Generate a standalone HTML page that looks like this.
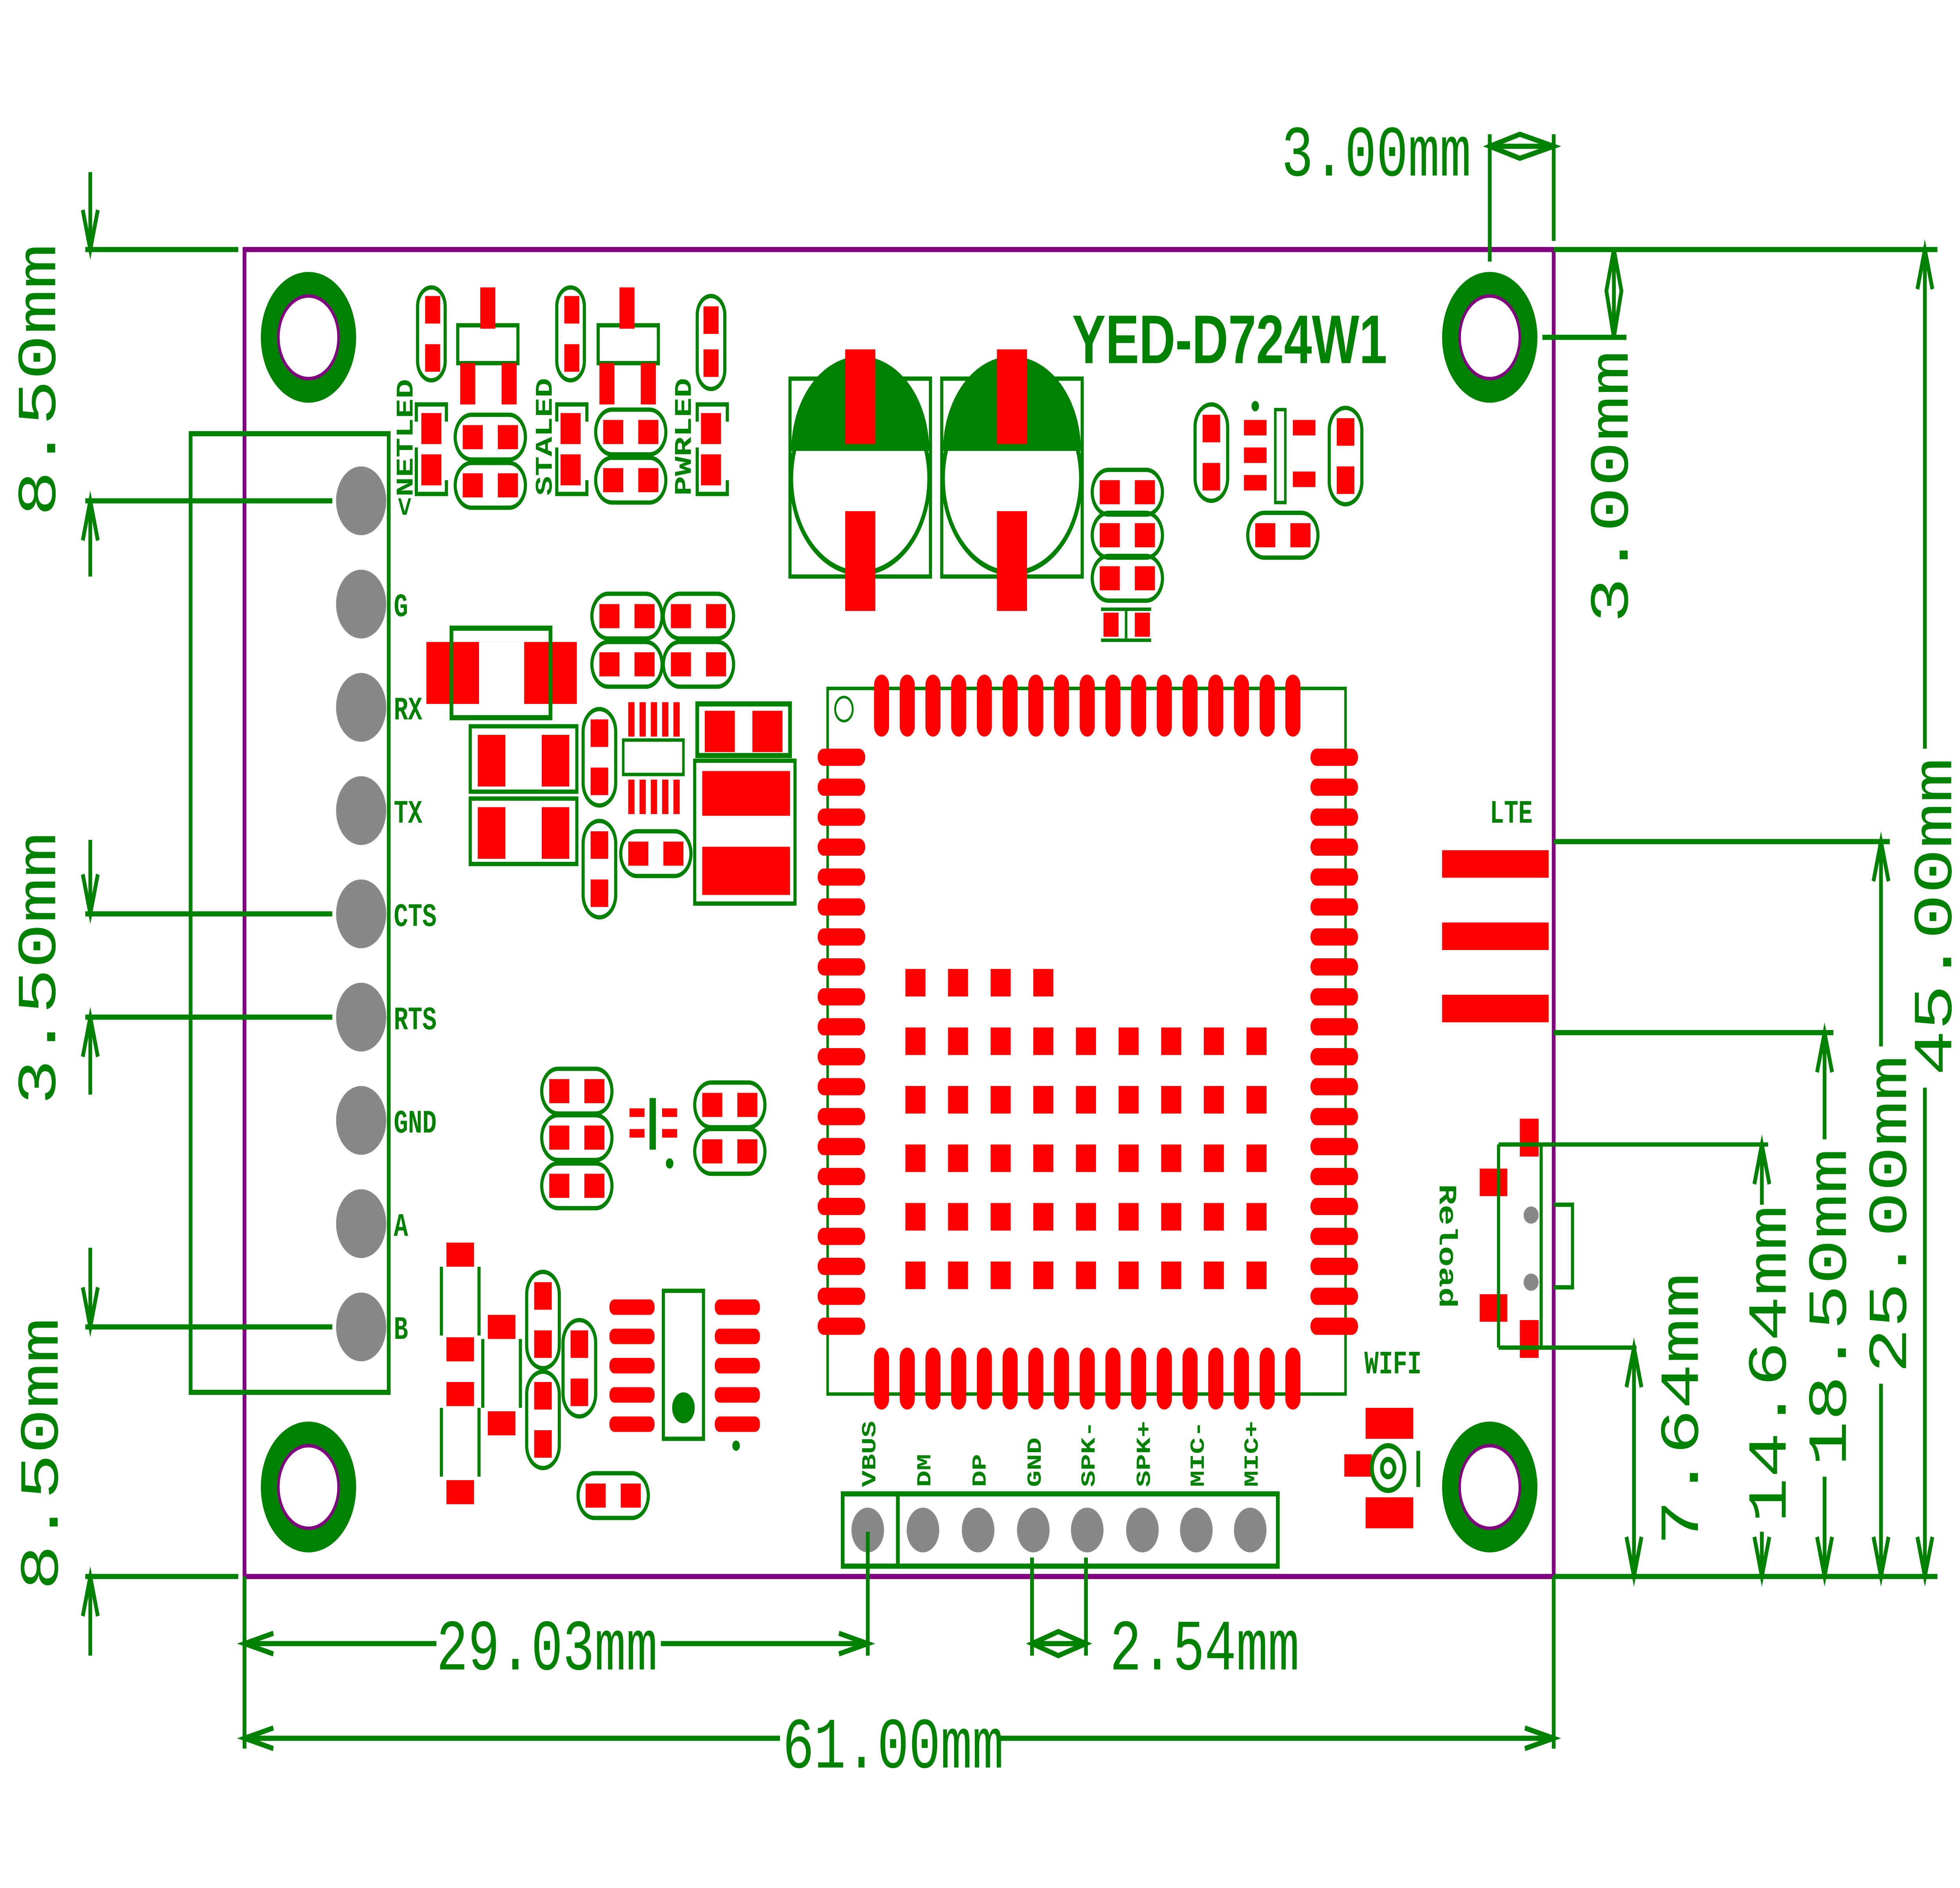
<!DOCTYPE html>
<html><head><meta charset="utf-8"><style>
html,body{margin:0;padding:0;background:#fff;overflow:hidden;width:100%;height:100%}
svg{display:block;position:absolute;left:0;top:0;width:100vw;height:100vh}
text{font-family:"Liberation Mono","DejaVu Sans Mono",monospace;fill:#008000}
</style></head><body>
<svg viewBox="0 0 1563 1097" preserveAspectRatio="none" xmlns="http://www.w3.org/2000/svg">
<defs>
<g id="pill"><rect x="-28" y="-13" width="56" height="26" rx="13" fill="none" stroke="#008000" stroke-width="2.5"/><rect x="-22" y="-7" width="16" height="14" fill="#f00"/><rect x="6" y="-7" width="16" height="14" fill="#f00"/></g>
<g id="hole"><circle r="38" fill="#008000"/><circle r="24" fill="#fff" stroke="#800080" stroke-width="2"/></g>
</defs>

<rect x="195" y="145" width="1044" height="771" fill="none" stroke="#800080" stroke-width="3"/>
<use href="#hole" x="246" y="196"/><use href="#hole" x="1188" y="196"/>
<use href="#hole" x="246" y="864"/><use href="#hole" x="1188" y="864"/>
<text x="855" y="211" font-weight="bold" font-size="40" style="font-family:'Liberation Sans',sans-serif">YED-D724W1</text>

<rect x="152" y="252" width="158" height="557" fill="none" stroke="#008000" stroke-width="3"/>
<g fill="#888">
<circle cx="288" cy="291" r="20"/><circle cx="288" cy="351" r="20"/><circle cx="288" cy="411" r="20"/><circle cx="288" cy="471" r="20"/><circle cx="288" cy="531" r="20"/><circle cx="288" cy="591" r="20"/><circle cx="288" cy="651" r="20"/><circle cx="288" cy="711" r="20"/><circle cx="288" cy="771" r="20"/>
</g>
<g font-size="19" font-weight="bold">
<text x="314" y="358">G</text><text x="314" y="418">RX</text><text x="314" y="478">TX</text><text x="314" y="538">CTS</text><text x="314" y="598">RTS</text><text x="314" y="658">GND</text><text x="314" y="718">A</text><text x="314" y="778">B</text>
<text transform="translate(329,300) rotate(-90)">&lt;NETLED</text>
<text transform="translate(440,288) rotate(-90)">STALED</text>
<text transform="translate(551,288) rotate(-90)">PWRLED</text>
</g>

<g stroke="#008000" stroke-width="2.5" fill="none">
<rect x="333" y="167" width="22" height="54" rx="11"/><rect x="444" y="167" width="22" height="54" rx="11"/><rect x="556" y="172" width="22" height="54" rx="11"/>
<rect x="365" y="189" width="48" height="22"/><rect x="477" y="189" width="48" height="22"/>
<path d="M332,245 v-10 h24 v10 M332,260 v27 h24 v-8 M444,245 v-10 h24 v10 M444,260 v27 h24 v-8 M556,245 v-10 h24 v10 M556,260 v27 h24 v-8"/>
</g>
<g fill="#f00">
<rect x="339" y="172" width="12" height="16"/><rect x="339" y="200" width="12" height="16"/>
<rect x="450" y="172" width="12" height="16"/><rect x="450" y="200" width="12" height="16"/>
<rect x="561" y="178" width="12" height="16"/><rect x="561" y="203" width="12" height="16"/>
<rect x="383" y="167" width="12" height="24"/><rect x="367" y="211" width="12" height="24"/><rect x="400" y="211" width="12" height="24"/>
<rect x="494" y="167" width="12" height="24"/><rect x="478" y="211" width="12" height="24"/><rect x="511" y="211" width="12" height="24"/>
<rect x="336" y="240" width="16" height="18"/><rect x="336" y="264" width="16" height="18"/>
<rect x="447" y="240" width="16" height="18"/><rect x="447" y="264" width="16" height="18"/>
<rect x="559" y="240" width="16" height="18"/><rect x="559" y="264" width="16" height="18"/>
</g>
<use href="#pill" x="391" y="254"/><use href="#pill" x="391" y="282"/><use href="#pill" x="503" y="251"/><use href="#pill" x="503" y="279"/>
<use href="#pill" x="500" y="358"/><use href="#pill" x="557" y="358"/><use href="#pill" x="500" y="386"/><use href="#pill" x="557" y="386"/>

<rect x="340" y="373" width="120" height="36" fill="#f00"/>
<rect x="382" y="373" width="36" height="36" fill="#fff"/>
<rect x="360" y="365" width="79" height="52" fill="none" stroke="#008000" stroke-width="3"/>
<g stroke="#008000" stroke-width="2.5" fill="none"><rect x="375" y="422" width="85" height="38"/><rect x="375" y="464" width="85" height="38"/></g>
<g fill="#f00"><rect x="381" y="427" width="22" height="30"/><rect x="432" y="427" width="22" height="30"/><rect x="381" y="469" width="22" height="30"/><rect x="432" y="469" width="22" height="30"/></g>
<g transform="translate(478,440) rotate(90)"><use href="#pill"/></g>
<g transform="translate(478,505) rotate(90)"><use href="#pill"/></g>
<use href="#pill" x="523" y="496"/>
<g fill="#f00"><rect x="501" y="408" width="5" height="20"/><rect x="510" y="408" width="5" height="20"/><rect x="519" y="408" width="5" height="20"/><rect x="528" y="408" width="5" height="20"/><rect x="537" y="408" width="5" height="20"/>
<rect x="501" y="453" width="5" height="20"/><rect x="510" y="453" width="5" height="20"/><rect x="519" y="453" width="5" height="20"/><rect x="528" y="453" width="5" height="20"/><rect x="537" y="453" width="5" height="20"/></g>
<rect x="497" y="430" width="48" height="20" fill="none" stroke="#008000" stroke-width="2"/>
<rect x="556" y="409" width="74" height="30" fill="none" stroke="#008000" stroke-width="3"/>
<g fill="#f00"><rect x="562" y="413" width="24" height="24"/><rect x="600" y="413" width="24" height="24"/><rect x="560" y="448" width="70" height="26"/><rect x="560" y="492" width="70" height="28"/></g>
<rect x="554" y="442" width="80" height="83" fill="none" stroke="#008000" stroke-width="2.5"/>

<g>
<rect x="630" y="220" width="112" height="115" fill="none" stroke="#008000" stroke-width="2.5"/>
<path d="M631,262 A55,55 0 0 1 741,262 Z" fill="#008000"/>
<circle cx="686" cy="278" r="55" fill="none" stroke="#008000" stroke-width="3"/>
<rect x="674" y="203" width="24" height="55" fill="#f00"/><rect x="674" y="297" width="24" height="58" fill="#f00"/>
<rect x="751" y="220" width="112" height="115" fill="none" stroke="#008000" stroke-width="2.5"/>
<path d="M752,262 A55,55 0 0 1 862,262 Z" fill="#008000"/>
<circle cx="807" cy="278" r="55" fill="none" stroke="#008000" stroke-width="3"/>
<rect x="795" y="203" width="24" height="55" fill="#f00"/><rect x="795" y="297" width="24" height="58" fill="#f00"/>
</g>
<use href="#pill" x="899" y="286"/><use href="#pill" x="899" y="311"/><use href="#pill" x="899" y="336"/>
<g fill="#f00"><rect x="880" y="356" width="12" height="14"/><rect x="905" y="356" width="12" height="14"/></g>
<path d="M878,354 h40 M878,372 h40 M898,354 v18" stroke="#008000" stroke-width="2"/>
<g transform="translate(966,263) rotate(90)"><use href="#pill"/></g>
<g transform="translate(1073,265) rotate(90)"><use href="#pill"/></g>
<use href="#pill" x="1023" y="311"/>
<g fill="#f00"><rect x="992" y="244" width="18" height="9"/><rect x="992" y="260" width="18" height="9"/><rect x="992" y="276" width="18" height="9"/><rect x="1031" y="244" width="18" height="9"/><rect x="1031" y="274" width="18" height="9"/></g>
<rect x="1017" y="238" width="8" height="54" fill="none" stroke="#008000" stroke-width="2"/><circle cx="1001" cy="236" r="3" fill="#008000"/>

<use href="#pill" x="460" y="634"/><use href="#pill" x="460" y="661"/><use href="#pill" x="460" y="689"/>
<use href="#pill" x="582" y="642"/><use href="#pill" x="582" y="669"/>
<g fill="#f00"><rect x="502" y="644" width="12" height="5"/><rect x="502" y="656" width="12" height="5"/><rect x="528" y="644" width="12" height="5"/><rect x="528" y="656" width="12" height="5"/></g>
<rect x="518" y="638" width="5" height="30" fill="#008000"/><circle cx="534" cy="676" r="3" fill="#008000"/>

<g fill="#f00"><rect x="356" y="722" width="22" height="14"/><rect x="356" y="777" width="22" height="14"/><rect x="356" y="803" width="22" height="14"/><rect x="356" y="860" width="22" height="14"/><rect x="389" y="764" width="22" height="14"/><rect x="389" y="820" width="22" height="14"/></g>
<path d="M352,736 v40 M382,736 v40 M352,818 v40 M382,818 v40 M385,778 v40 M415,778 v40" stroke="#008000" stroke-width="2.5"/>
<g transform="translate(433,767) rotate(90)"><use href="#pill"/></g>
<g transform="translate(433,825) rotate(90)"><use href="#pill"/></g>
<g transform="translate(462,795) rotate(90)"><use href="#pill"/></g>
<use href="#pill" x="489" y="869"/>
<g fill="#f00"><rect x="486" y="755" width="36" height="9" rx="4"/><rect x="486" y="772" width="36" height="9" rx="4"/><rect x="486" y="789" width="36" height="9" rx="4"/><rect x="486" y="806" width="36" height="9" rx="4"/><rect x="486" y="823" width="36" height="9" rx="4"/>
<rect x="570" y="755" width="36" height="9" rx="4"/><rect x="570" y="772" width="36" height="9" rx="4"/><rect x="570" y="789" width="36" height="9" rx="4"/><rect x="570" y="806" width="36" height="9" rx="4"/><rect x="570" y="823" width="36" height="9" rx="4"/></g>
<rect x="529" y="750" width="32" height="86" fill="none" stroke="#008000" stroke-width="2.5"/>
<circle cx="545" cy="818" r="9" fill="#008000"/><circle cx="587" cy="840" r="3" fill="#008000"/>

<rect x="660" y="400" width="413" height="410" fill="none" stroke="#008000" stroke-width="2"/>
<circle cx="673" cy="412" r="7" fill="none" stroke="#008000" stroke-width="1.5"/>
<g id="tr" fill="#f00">
<rect x="697" y="392" width="12" height="36" rx="6"/><rect x="717.5" y="392" width="12" height="36" rx="6"/><rect x="738" y="392" width="12" height="36" rx="6"/><rect x="758.5" y="392" width="12" height="36" rx="6"/><rect x="779" y="392" width="12" height="36" rx="6"/><rect x="799.5" y="392" width="12" height="36" rx="6"/><rect x="820" y="392" width="12" height="36" rx="6"/><rect x="840.5" y="392" width="12" height="36" rx="6"/><rect x="861" y="392" width="12" height="36" rx="6"/><rect x="881.5" y="392" width="12" height="36" rx="6"/><rect x="902" y="392" width="12" height="36" rx="6"/><rect x="922.5" y="392" width="12" height="36" rx="6"/><rect x="943" y="392" width="12" height="36" rx="6"/><rect x="963.5" y="392" width="12" height="36" rx="6"/><rect x="984" y="392" width="12" height="36" rx="6"/><rect x="1004.5" y="392" width="12" height="36" rx="6"/><rect x="1025" y="392" width="12" height="36" rx="6"/>
</g>
<use href="#tr" y="391"/>
<g id="lc" fill="#f00">
<rect x="652" y="435" width="38" height="10" rx="5"/><rect x="652" y="452.4" width="38" height="10" rx="5"/><rect x="652" y="469.8" width="38" height="10" rx="5"/><rect x="652" y="487.2" width="38" height="10" rx="5"/><rect x="652" y="504.6" width="38" height="10" rx="5"/><rect x="652" y="522" width="38" height="10" rx="5"/><rect x="652" y="539.4" width="38" height="10" rx="5"/><rect x="652" y="556.8" width="38" height="10" rx="5"/><rect x="652" y="574.2" width="38" height="10" rx="5"/><rect x="652" y="591.6" width="38" height="10" rx="5"/><rect x="652" y="609" width="38" height="10" rx="5"/><rect x="652" y="626.4" width="38" height="10" rx="5"/><rect x="652" y="643.8" width="38" height="10" rx="5"/><rect x="652" y="661.2" width="38" height="10" rx="5"/><rect x="652" y="678.6" width="38" height="10" rx="5"/><rect x="652" y="696" width="38" height="10" rx="5"/><rect x="652" y="713.4" width="38" height="10" rx="5"/><rect x="652" y="730.8" width="38" height="10" rx="5"/><rect x="652" y="748.2" width="38" height="10" rx="5"/><rect x="652" y="765.6" width="38" height="10" rx="5"/>
</g>
<use href="#lc" x="393"/>
<g fill="#f00">
<rect x="722" y="563" width="16" height="16"/><rect x="756" y="563" width="16" height="16"/><rect x="790" y="563" width="16" height="16"/><rect x="824" y="563" width="16" height="16"/>
</g>
<g id="gr" fill="#f00">
<rect x="722" y="597" width="16" height="16"/><rect x="756" y="597" width="16" height="16"/><rect x="790" y="597" width="16" height="16"/><rect x="824" y="597" width="16" height="16"/><rect x="858" y="597" width="16" height="16"/><rect x="892" y="597" width="16" height="16"/><rect x="926" y="597" width="16" height="16"/><rect x="960" y="597" width="16" height="16"/><rect x="994" y="597" width="16" height="16"/>
</g>
<use href="#gr" y="34"/><use href="#gr" y="68"/><use href="#gr" y="102"/><use href="#gr" y="136"/>

<rect x="672" y="868" width="347" height="42" fill="none" stroke="#008000" stroke-width="3"/>
<line x1="716" y1="868" x2="716" y2="910" stroke="#008000" stroke-width="3"/>
<g fill="#888"><circle cx="692" cy="889" r="13"/><circle cx="736" cy="889" r="13"/><circle cx="780" cy="889" r="13"/><circle cx="824" cy="889" r="13"/><circle cx="867" cy="889" r="13"/><circle cx="911" cy="889" r="13"/><circle cx="954" cy="889" r="13"/><circle cx="997" cy="889" r="13"/></g>
<g font-size="16" font-weight="bold">
<text transform="translate(698,864) rotate(-90)">VBUS</text><text transform="translate(742,864) rotate(-90)">DM</text><text transform="translate(786,864) rotate(-90)">DP</text><text transform="translate(830,864) rotate(-90)">GND</text><text transform="translate(873,864) rotate(-90)">SPK-</text><text transform="translate(917,864) rotate(-90)">SPK+</text><text transform="translate(960,864) rotate(-90)">MIC-</text><text transform="translate(1003,864) rotate(-90)">MIC+</text>
</g>

<text x="1188" y="478" font-size="19" font-weight="bold">LTE</text>
<g fill="#f00"><rect x="1150" y="494" width="85" height="16"/><rect x="1150" y="536" width="85" height="16"/><rect x="1150" y="578" width="85" height="16"/></g>
<g fill="#f00"><rect x="1212" y="650" width="15" height="22"/><rect x="1212" y="767" width="15" height="22"/><rect x="1180" y="679" width="22" height="16"/><rect x="1180" y="752" width="22" height="16"/></g>
<path d="M1195,665 V783 M1195,665 H1410 M1195,783 H1305 M1229,665 V783 M1239,700 h15 v48 h-15" stroke="#008000" stroke-width="2.5" fill="none"/>
<g fill="#888"><ellipse cx="1221" cy="706" rx="6" ry="5"/><ellipse cx="1221" cy="745" rx="6" ry="5"/></g>
<text transform="translate(1148,688) rotate(90)" font-size="20" font-weight="bold">Reload</text>
<text x="1088" y="798" font-size="19" font-weight="bold">WIFI</text>
<g fill="#f00"><rect x="1089" y="818" width="38" height="18"/><rect x="1089" y="870" width="38" height="18"/><rect x="1072" y="845" width="22" height="13"/></g>
<circle cx="1107" cy="853" r="13" fill="none" stroke="#008000" stroke-width="3"/><circle cx="1107" cy="853" r="5" fill="none" stroke="#008000" stroke-width="3"/>
<line x1="1131" y1="843" x2="1131" y2="864" stroke="#008000" stroke-width="3"/>

<g stroke="#008000" stroke-width="3" fill="none">
<path d="M68,145 H190 M68,291 H265 M68,531 H265 M68,591 H265 M68,771 H265 M68,916 H190"/>
<path d="M72,100 V145 M72,291 V335 M72,488 V531 M72,591 V636 M72,725 V771 M72,916 V962"/>
<path d="M66,122 l6,23 l6,-23 M66,314 l6,-23 l6,23 M66,508 l6,23 l6,-23 M66,614 l6,-23 l6,23 M66,748 l6,23 l6,-23 M66,939 l6,-23 l6,23"/>
<path d="M1188,78 V152 M1239,78 V140 M1188,85 H1239 M1188,85 l24,-7 l27,7 l-27,7 z"/>
<path d="M1239,145 H1545 M1230,196 H1297 M1287,145 V196 M1287,145 l-6,24 l6,27 l6,-27 z"/>
<path d="M1239,916 H1545 M1535,145 V435 M1535,632 V916 M1529,168 l6,-23 l6,23 M1529,893 l6,23 l6,-23"/>
<path d="M1239,489 H1507 M1500,489 V608 M1500,804 V916 M1494,512 l6,-23 l6,23 M1494,893 l6,23 l6,-23"/>
<path d="M1239,600 H1462 M1455,600 V662 M1455,858 V916 M1449,623 l6,-23 l6,23 M1449,893 l6,23 l6,-23"/>
<path d="M1405,665 V700 M1405,890 V916 M1399,688 l6,-23 l6,23 M1399,893 l6,23 l6,-23"/>
<path d="M1303,783 V916 M1297,806 l6,-23 l6,23 M1297,893 l6,23 l6,-23"/>
<path d="M195,916 V1016 M1239,916 V1016 M692,890 V962 M195,955 H348 M527,955 H692 M218,949 l-23,6 l23,6 M669,949 l23,6 l-23,6"/>
<path d="M195,1010 H622 M798,1010 H1239 M218,1004 l-23,6 l23,6 M1216,1004 l23,6 l-23,6"/>
<path d="M823,905 V962 M866,905 V962 M823,955 H866 M823,955 l21,-7 l22,7 l-22,7 z"/>
</g>
<g font-size="42">
<text x="1022" y="102">3.00mm</text>
<text x="348" y="970">29.03mm</text>
<text x="624" y="1027">61.00mm</text>
<text x="885" y="970">2.54mm</text>
</g>
<g font-size="44">
<text transform="translate(44,300) rotate(-90)">8.50mm</text>
<text transform="translate(44,642) rotate(-90)">3.50mm</text>
<text transform="translate(46,924) rotate(-90)">8.50mm</text>
<text transform="translate(1298,362) rotate(-90)">3.00mm</text>
<text transform="translate(1556,625) rotate(-90)">45.00mm</text>
<text transform="translate(1520,798) rotate(-90)">25.00mm</text>
<text transform="translate(1472,852) rotate(-90)">18.50mm</text>
<text transform="translate(1424,885) rotate(-90)">14.64mm</text>
<text transform="translate(1354,898) rotate(-90)">7.64mm</text>
</g>
</svg>
</body></html>
